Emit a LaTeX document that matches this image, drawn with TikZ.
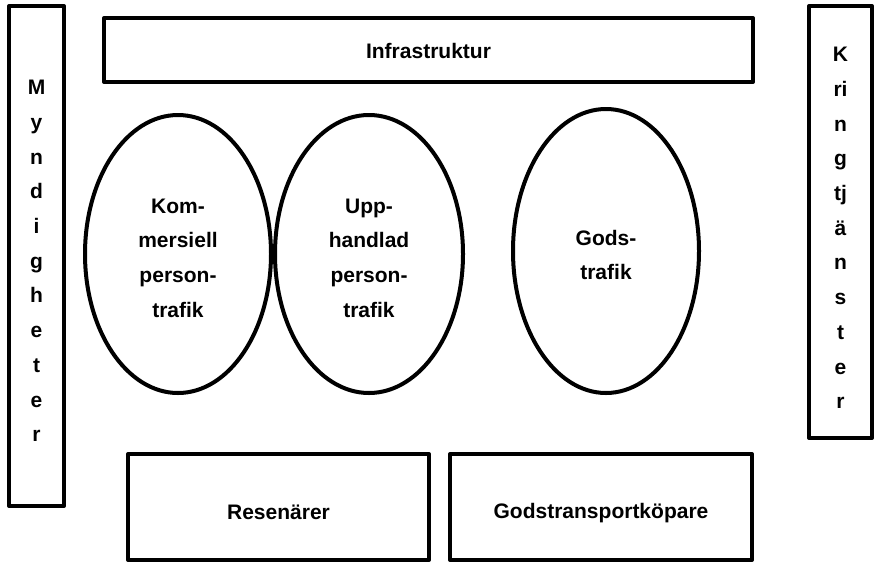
\documentclass[tikz,border=0pt]{standalone}
\usepackage{fontspec}
\setmainfont{Liberation Sans}
\usetikzlibrary{shapes.geometric}
\tikzset{
  box/.style={draw=black, line width=4pt, line join=round, rectangle, inner sep=0pt},
  oval/.style={draw=black, line width=4pt, ellipse, inner sep=0pt},
  txt/.style={inner sep=0pt, align=center, font=\fontsize{21}{34.7}\selectfont\bfseries},
}
\begin{document}
\begin{tikzpicture}[x=1pt,y=-1pt]
\useasboundingbox (0,0) rectangle (875,563);
\node[box, minimum width=55pt, minimum height=500pt,
  label={[txt, yshift=-5pt]center:{M\\y\\n\\d\\i\\g\\h\\e\\t\\e\\r}}] (myn) at (36.5,256) {};
\node[box, minimum width=63pt, minimum height=432pt,
  label={[txt, yshift=-6pt]center:{K\\ri\\n\\g\\tj\\ä\\n\\s\\t\\e\\r}}] (kring) at (840.5,222) {};
\node[box, minimum width=649pt, minimum height=64pt,
  label={[txt, yshift=-1pt]center:{Infrastruktur}}] (infra) at (428.5,50) {};
\node[box, minimum width=301pt, minimum height=106pt,
  label={[txt, yshift=-5pt]center:{Resenärer}}] (rese) at (278.5,507) {};
\node[box, minimum width=302pt, minimum height=106pt,
  label={[txt, yshift=-6pt]center:{Godstransportköpare}}] (gtk) at (601,507) {};
\node[oval, minimum width=186pt, minimum height=278pt,
  label={[txt, yshift=-4pt]center:{Kom-\\mersiell\\person-\\trafik}}] (komm) at (178,254) {};
\node[oval, minimum width=188pt, minimum height=278pt,
  label={[txt, yshift=-4pt]center:{Upp-\\handlad\\person-\\trafik}}] (upph) at (369,254) {};
\node[oval, minimum width=186pt, minimum height=284pt,
  label={[txt, yshift=-4pt]center:{Gods-\\trafik}}] (gods) at (606,251) {};
\end{tikzpicture}
\end{document}
